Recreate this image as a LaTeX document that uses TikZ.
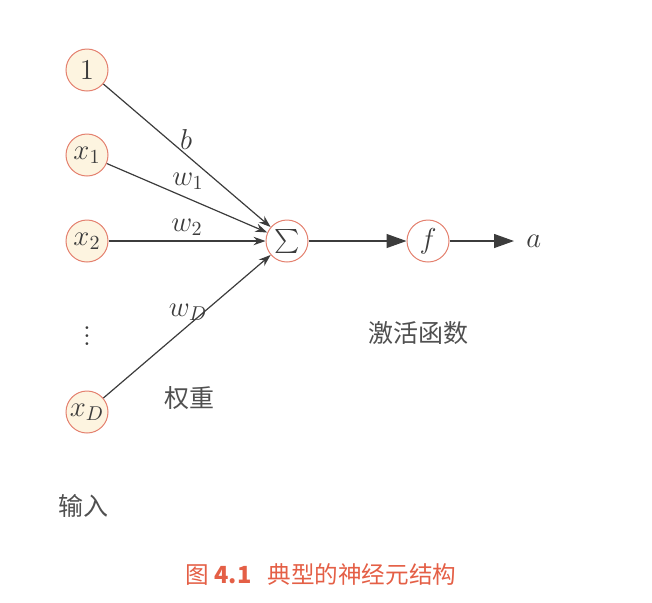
\documentclass[tikz,border=0pt]{standalone}
\usepackage{amsmath}
\usepackage{fontspec}
\newfontfamily\cjk{Noto Sans CJK SC}
\usetikzlibrary{arrows.meta}
\definecolor{nodefill}{RGB}{253,244,224}
\definecolor{nodeline}{RGB}{228,128,110}
\definecolor{arrowc}{RGB}{60,60,60}
\definecolor{captc}{RGB}{228,95,70}
\begin{document}
\begin{tikzpicture}[x=0.5pt,y=-0.5pt,
  neuron/.style={circle,draw=nodeline,fill=nodefill,line width=0.5pt,minimum size=21pt,inner sep=0pt,font=\Large,text=arrowc},
  opnode/.style={circle,draw=nodeline,fill=white,line width=0.5pt,minimum size=21pt,inner sep=0pt,font=\Large,text=arrowc},
  conn/.style={draw=arrowc,line width=0.6pt,-{Stealth[length=6pt,width=4.2pt]}},
  bigconn/.style={draw=arrowc,line width=0.6pt,-{Triangle[length=10pt,width=7pt]}},
  lbl/.style={font=\Large,text=arrowc,inner sep=0pt},
  cjklbl/.style={font=\cjk\fontsize{12.5}{15}\selectfont,text=arrowc!90,inner sep=0pt}]
\useasboundingbox (0,0) rectangle (652,602);
\node[neuron] (one) at (87,70) {$1$};
\node[neuron] (x1) at (87,155) {$x_1$};
\node[neuron] (x2) at (87,241) {$x_2$};
\node[lbl] (dots) at (87,330) {$\vdots$};
\node[neuron] (xD) at (87,412) {$x_D$};
\node[opnode,font=\large] (sum) at (287,241) {$\sum$};
\node[opnode] (f) at (428,241) {$f$};
\node[lbl,anchor=west] (a) at (526,241) {$a$};
\draw[conn] (one) -- (sum);
\draw[conn] (x1) -- (sum);
\draw[conn] (x2) -- (sum);
\draw[conn] (xD) -- (sum);
\draw[bigconn] (sum) -- (f);
\draw[bigconn, shorten >=6pt] (f) -- (a);
\node[lbl] (lb) at (186,139) {$b$};
\node[lbl] (lw1) at (188,181) {$w_1$};
\node[lbl] (lw2) at (187,227) {$w_2$};
\node[lbl] (lwD) at (188,312) {$w_D$};
\node[cjklbl] (wt) at (189,398) {权重};
\node[cjklbl] (act) at (418,333) {激活函数};
\node[cjklbl] (inp) at (83,506) {输入};
\node[font=\cjk\fontsize{11.8}{14}\selectfont,text=captc,inner sep=0pt] (cap) at (321,574) {图 \textbf{4.1}\hspace{8pt}典型的神经元结构};
\end{tikzpicture}
\end{document}
